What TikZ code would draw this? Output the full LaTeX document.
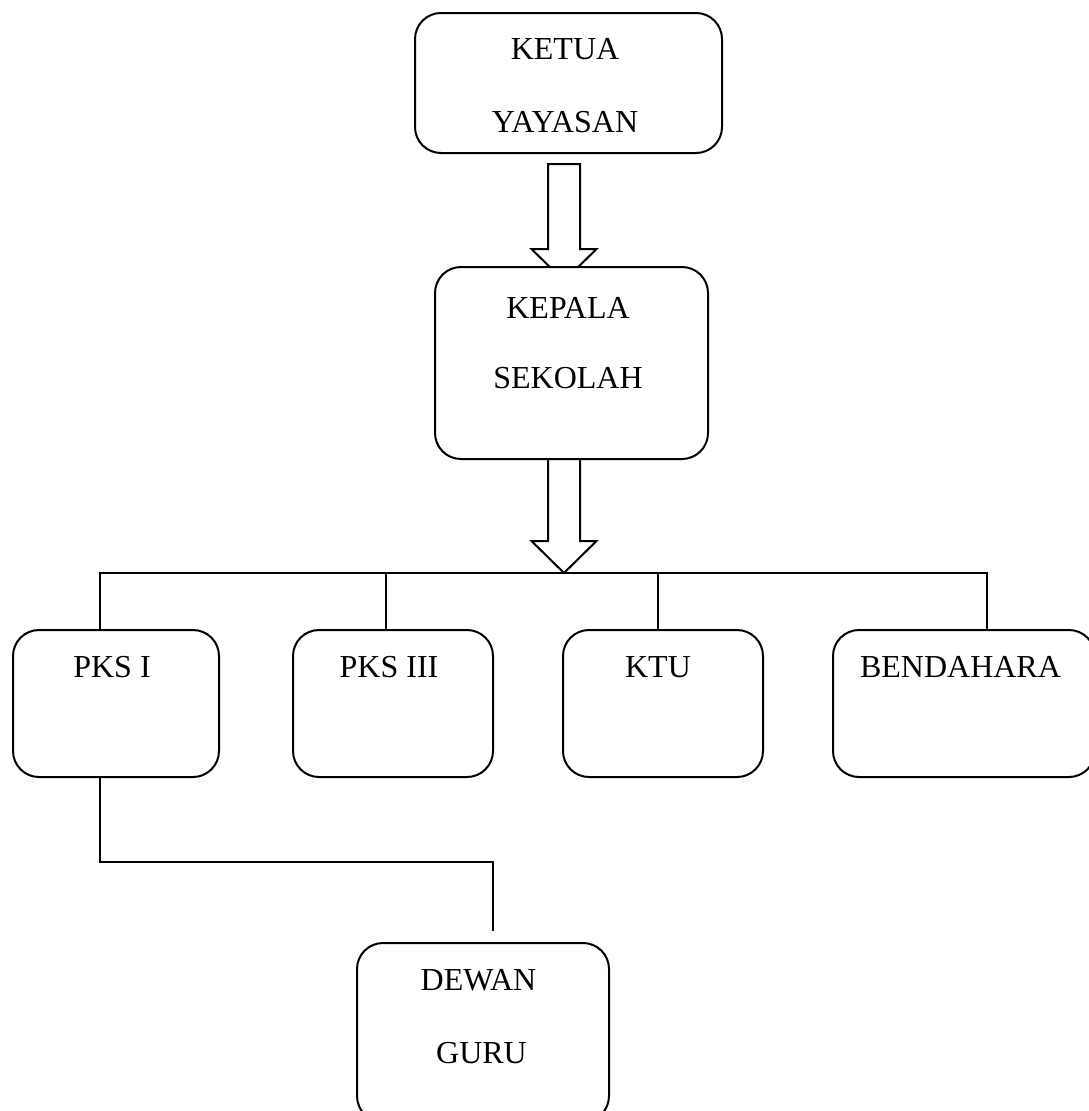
\documentclass[tikz,border=0pt]{standalone}
\usepackage{fontspec}
\setmainfont{Liberation Serif}
\usetikzlibrary{calc}

\newcommand{\blockarrow}[2]{%
  \draw[barrow] ($(#1)+(-16,0)$) -- ($(#2)+(-16,-32)$) -- ($(#2)+(-32.5,-32)$)
    -- (#2) -- ($(#2)+(32.5,-32)$) -- ($(#2)+(16,-32)$) -- ($(#1)+(16,0)$) -- cycle;}

\begin{document}
\begin{tikzpicture}
    [x=1pt, y=-1pt,
    line width=2pt,
    unit/.style={draw, fill=white, rounded corners=26pt, inner sep=0pt},
    title/.style={anchor=base, inner sep=0pt, font=\fontsize{32}{38}\selectfont},
    barrow/.style={fill=white, line join=miter},
    link/.style={line cap=rect}]
        \useasboundingbox (0,0) rectangle (1089,1111);

        %% top
        \node[unit, minimum width=307pt, minimum height=140pt] (ketua) at (568.5,83) {};
        \node[title] (ketuaA) at (565,59) {KETUA};
        \node[title] (ketuaB) at (565,132.5) {YAYASAN};

        \coordinate (arrTopA) at (564,164);
        \coordinate (arrTipA) at (564,281);
        \blockarrow{arrTopA}{arrTipA}

        \node[unit, minimum width=273pt, minimum height=192pt] (kepala) at (571.5,363) {};
        \node[title] (kepalaA) at (568,318) {KEPALA};
        \node[title] (kepalaB) at (568,388.5) {SEKOLAH};

        \coordinate (arrTopB) at (564,459);
        \coordinate (arrTipB) at (564,573);
        \blockarrow{arrTopB}{arrTipB}

        %% second row
        \node[unit, minimum width=206pt, minimum height=147pt] (pksI) at (116,703.5) {};
        \node[unit, minimum width=200pt, minimum height=147pt] (pksIII) at (393,703.5) {};
        \node[unit, minimum width=200pt, minimum height=147pt] (ktu) at (663,703.5) {};
        \node[unit, minimum width=262pt, minimum height=147pt] (bend) at (964,703.5) {};
        \node[title] (pksItext) at (112,677.5) {PKS I};
        \node[title] (pksIIItext) at (389,677.5) {PKS III};
        \node[title] (ktutext) at (658,677.5) {KTU};
        \node[title] (bendtext) at (960.5,677.5) {BENDAHARA};

        \draw[link] (100,573) -- (987,573);
        \foreach \x/\b in {100/pksI, 386/pksIII, 658/ktu, 987/bend}
            \draw (\x,573) -- (\b.north -| \x,573);

        %% bottom
        \node[unit, minimum width=252pt, minimum height=179pt] (dewan) at (483,1032.5) {};
        \node[title] (dewanA) at (478.5,990.5) {DEWAN};
        \node[title] (dewanB) at (481.5,1063.5) {GURU};

        \draw[line join=miter] (pksI.south -| 100,0) -- (100,862) -- (493,862) -- (493,931);
    \end{tikzpicture}
\end{document}
